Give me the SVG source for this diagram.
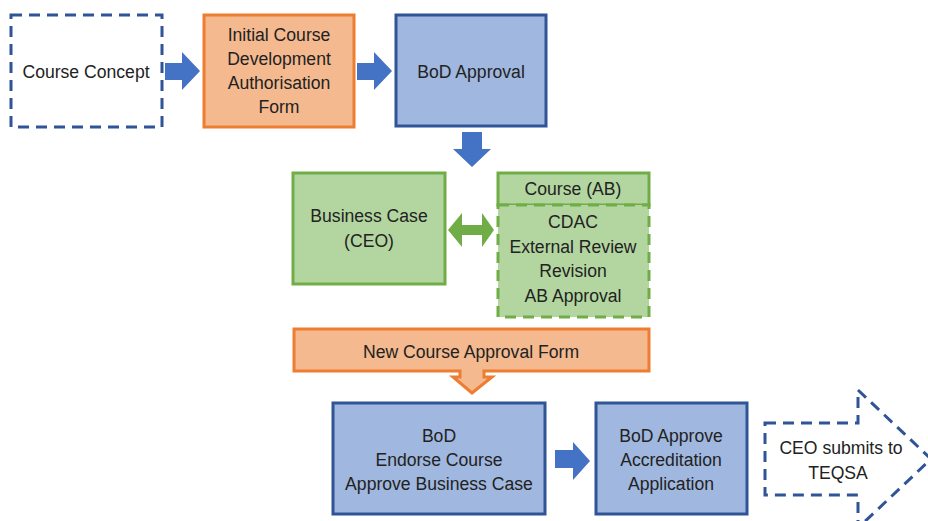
<svg xmlns="http://www.w3.org/2000/svg" width="928" height="521" viewBox="0 0 928 521">
  <style>
    text { font-family: "Liberation Sans", Arial, sans-serif; font-size: 17.6px; fill: #222222; text-anchor: middle; dominant-baseline: central; }
    .blue { fill: #A0B7DF; stroke: #2F5597; stroke-width: 3; }
    .orange { fill: #F4B98F; stroke: #ED7D31; stroke-width: 3; }
    .green { fill: #B3D6A0; stroke: #70AD47; stroke-width: 3; }
    .dash { stroke-dasharray: 11 7; }
    .outline { fill: #FFFFFF; stroke: #2F5597; stroke-width: 3; }
    .arrow-blue { fill: #4472C4; }
    .arrow-green { fill: #70AD47; }
  </style>

  <g id="connectors">
    <polygon class="arrow-blue" points="165,63 182,63 182,52 200,71 182,90 182,80 165,80"/>
    <polygon class="arrow-blue" points="357,63 374,63 374,52 392,71 374,90 374,80 357,80"/>
    <polygon class="arrow-blue" points="462,132 482,132 482,149 491,149 472,167 453,149 462,149"/>
    <polygon class="arrow-green" points="448,230 462,213 462,225 482,225 482,213 494,230 482,247 482,235 462,235 462,247"/>
    <polygon class="arrow-blue" points="555,450 573,450 573,442 590,461 573,480 573,468 555,468"/>
  </g>

  <g id="course-concept">
    <rect class="outline dash" x="11" y="15" width="151" height="112"/>
    <text x="86" y="72">Course Concept</text>
  </g>

  <g id="initial-form">
    <rect class="orange" x="204" y="15" width="150" height="112"/>
    <text x="279" y="35">Initial Course</text>
    <text x="279" y="59">Development</text>
    <text x="279" y="83">Authorisation</text>
    <text x="279" y="107">Form</text>
  </g>

  <g id="bod-approval">
    <rect class="blue" x="396" y="15" width="150" height="111"/>
    <text x="471" y="72">BoD Approval</text>
  </g>

  <g id="business-case">
    <rect class="green" x="293" y="173" width="152" height="111"/>
    <text x="369" y="216">Business Case</text>
    <text x="369" y="241">(CEO)</text>
  </g>

  <g id="course-ab">
    <rect class="green" x="498" y="173" width="151" height="32"/>
    <rect class="green dash" x="498" y="205" width="151" height="112"/>
    <text x="573" y="189">Course (AB)</text>
    <text x="573" y="222">CDAC</text>
    <text x="573" y="247">External Review</text>
    <text x="573" y="271">Revision</text>
    <text x="573" y="296">AB Approval</text>
  </g>

  <g id="new-course-form">
    <path class="orange" d="M294,329 H649 V371 H484 V377 H492 L472,393 L453,377 H460 V371 H294 Z"/>
    <text x="471" y="352">New Course Approval Form</text>
  </g>

  <g id="bod-endorse">
    <rect class="blue" x="333" y="403" width="212" height="111"/>
    <text x="439" y="436">BoD</text>
    <text x="439" y="460">Endorse Course</text>
    <text x="439" y="484">Approve Business Case</text>
  </g>

  <g id="bod-accreditation">
    <rect class="blue" x="596" y="403" width="151" height="111"/>
    <text x="671" y="436">BoD Approve</text>
    <text x="671" y="460">Accreditation</text>
    <text x="671" y="484">Application</text>
  </g>

  <g id="ceo-submits">
    <path class="outline dash" d="M765,423 H858 V390 L931,459 L858,528 V495 H765 Z"/>
    <text x="841" y="448">CEO submits to</text>
    <text x="838" y="473">TEQSA</text>
  </g>
</svg>
